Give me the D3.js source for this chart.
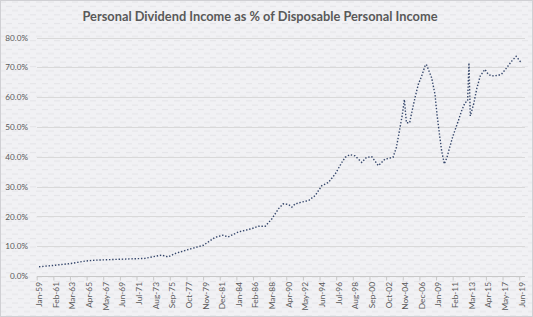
<!DOCTYPE html>
<html>
<head>
<meta charset="utf-8">
<script src="https://cdn.jsdelivr.net/npm/d3@7"></script>
<style>
  body { margin: 0; background: #fff; }
  text { font-family: Lato, "Open Sans", sans-serif; fill: #595959; }
</style>
</head>
<body>
<div id="chart"></div>
<script>
var dates = ["1959-01","1961-01","1963-01","1964-10","1966-01","1968-12","1972-04","1974-05","1975-03","1976-01",
  "1978-02","1979-08","1981-01","1982-01","1982-09","1984-01","1985-09","1986-07","1987-05","1988-03",
  "1989-01","1989-08","1990-04","1990-09","1991-02","1991-12","1992-10","1993-08","1994-06","1995-04",
  "1996-02","1996-12","1997-05","1997-12","1998-08","1999-06","2000-01","2000-09","2001-07","2002-05",
  "2003-05","2003-10","2004-03","2004-07","2004-10","2005-01","2005-06","2005-08","2006-02","2006-07",
  "2006-12","2007-05","2007-07","2007-09","2008-03","2008-08","2008-11","2009-02","2009-06","2009-10",
  "2010-02","2010-06","2010-11","2011-07","2011-12","2012-05","2012-09","2012-11","2013-01","2013-06",
  "2013-11","2014-04","2014-11","2015-04","2015-09","2016-07","2016-12","2017-08","2018-03","2018-10",
  "2019-04","2019-06"];
var values = [3.1,3.6,4.2,5.0,5.3,5.6,5.9,7.0,6.4,7.5,
  9.2,10.3,12.9,13.7,13.1,14.8,15.9,16.7,16.7,19.2,
  22.6,24.2,24.0,23.1,24.2,24.8,25.3,27.0,30.3,31.4,
  34.2,38.1,39.8,40.7,40.3,38.1,39.8,40.0,37.0,39.2,
  39.8,43.1,49.2,54.2,59.2,51.4,51.4,53.7,59.9,64.3,
  67.1,70.4,71.0,69.9,66.5,60.9,54.2,48.7,42.0,37.6,
  39.8,43.1,47.0,52.0,55.4,58.1,58.7,71.5,53.7,57.6,
  63.1,67.1,69.3,67.7,67.1,67.3,67.7,69.9,72.0,73.7,
  72.0,71.8];

// tick labels, one every 25 months
var tickLabels = ["Jan-59","Feb-61","Mar-63","Apr-65","May-67","Jun-69","Jul-71","Aug-73","Sep-75","Oct-77",
  "Nov-79","Dec-81","Jan-84","Feb-86","Mar-88","Apr-90","May-92","Jun-94","Jul-96","Aug-98",
  "Sep-00","Oct-02","Nov-04","Dec-06","Jan-09","Feb-11","Mar-13","Apr-15","May-17","Jun-19"];
var yTicks = [0,10,20,30,40,50,60,70,80];

var svgWidth = 533;
var svgHeight = 317;

var parseMonth = d3.timeParse("%Y-%m");
var parseLabel = d3.timeParse("%b-%y");
var data = dates.map((d, i) => ({date: parseMonth(d), value: values[i]}));
var tickDates = tickLabels.map(t => {
  var d = parseLabel(t);
  if (d.getFullYear() > 2030) d.setFullYear(d.getFullYear() - 100);
  return d;
});

var svg = d3.select("#chart").append("svg")
  .attr("width", svgWidth)
  .attr("height", svgHeight);

// background with faint dashed texture
var defs = svg.append("defs");
var pat = defs.append("pattern")
  .attr("id", "bgpat")
  .attr("patternUnits", "userSpaceOnUse")
  .attr("width", 12).attr("height", 8.6);
pat.append("rect").attr("width", 12).attr("height", 8.6).attr("fill", "#f1f1f4");
pat.append("rect").attr("x", 0).attr("y", 1.5).attr("width", 6).attr("height", 1).attr("fill", "#e4e4e8");
pat.append("rect").attr("x", 6).attr("y", 5.8).attr("width", 6).attr("height", 1).attr("fill", "#e4e4e8");

svg.append("rect")
  .attr("x", 0.5).attr("y", 0.5)
  .attr("width", svgWidth - 1).attr("height", svgHeight - 1)
  .attr("fill", "url(#bgpat)")
  .attr("stroke", "#d0d0d4");

var x = d3.scaleTime()
  .domain([parseMonth("1959-01"), parseMonth("2019-06")])
  .range([39, 521.5]);

var y = d3.scaleLinear()
  .domain([0, 80])
  .range([276, 37.5]);

// gridlines
svg.append("g")
  .selectAll("line")
  .data(yTicks.slice(1))
  .enter()
  .append("line")
  .attr("x1", 37).attr("x2", 525)
  .attr("y1", d => Math.round(y(d)) + 0.5)
  .attr("y2", d => Math.round(y(d)) + 0.5)
  .attr("stroke", "#d9d9d9")
  .attr("stroke-width", 1);

// y axis labels
var leftAxis = d3.axisLeft(y)
  .tickValues(yTicks)
  .tickFormat(d => d.toFixed(1) + "%")
  .tickSize(0)
  .tickPadding(0);
var yAxis = svg.append("g")
  .attr("transform", "translate(28,0)")
  .call(leftAxis);
yAxis.select(".domain").remove();
yAxis.selectAll("text")
  .attr("font-size", "8.2px")
  .attr("font-family", "Lato, sans-serif")
  .attr("fill", "#595959");

// x axis line + ticks at category boundaries
var bottomAxis = d3.axisBottom(x)
  .tickValues(tickDates)
  .tickFormat((d, i) => tickLabels[i])
  .tickSize(0)
  .tickPadding(0);
var xAxis = svg.append("g")
  .attr("transform", "translate(0,276.5)")
  .call(bottomAxis);
xAxis.select(".domain")
  .attr("d", "M37,0H525")
  .attr("stroke", "#c8c8c8");
xAxis.selectAll(".tick").append("line")
  .attr("x1", -2.3).attr("x2", -2.3)
  .attr("y1", 0).attr("y2", 4)
  .attr("stroke", "#c8c8c8");
xAxis.selectAll("text")
  .attr("transform", "rotate(-90)")
  .attr("text-anchor", "end")
  .attr("x", -5.5)
  .attr("y", 0)
  .attr("dy", "0.32em")
  .attr("font-size", "8.3px")
  .attr("font-family", "Lato, sans-serif")
  .attr("fill", "#595959");

// dotted line
var line = d3.line()
  .x(d => x(d.date))
  .y(d => y(d.value));

svg.append("path")
  .datum(data)
  .attr("d", line)
  .attr("fill", "none")
  .attr("stroke", "#34466b")
  .attr("stroke-width", 1.4)
  .attr("stroke-dasharray", "1.4,1.8");

// title
svg.append("text")
  .attr("x", 260)
  .attr("y", 21)
  .attr("text-anchor", "middle")
  .attr("font-size", "14px")
  .attr("font-weight", "bold")
  .attr("font-family", "Lato, sans-serif")
  .attr("fill", "#595959")
  .attr("textLength", 355)
  .attr("lengthAdjust", "spacingAndGlyphs")
  .text("Personal Dividend Income as % of Disposable Personal Income");
</script>
</body>
</html>
